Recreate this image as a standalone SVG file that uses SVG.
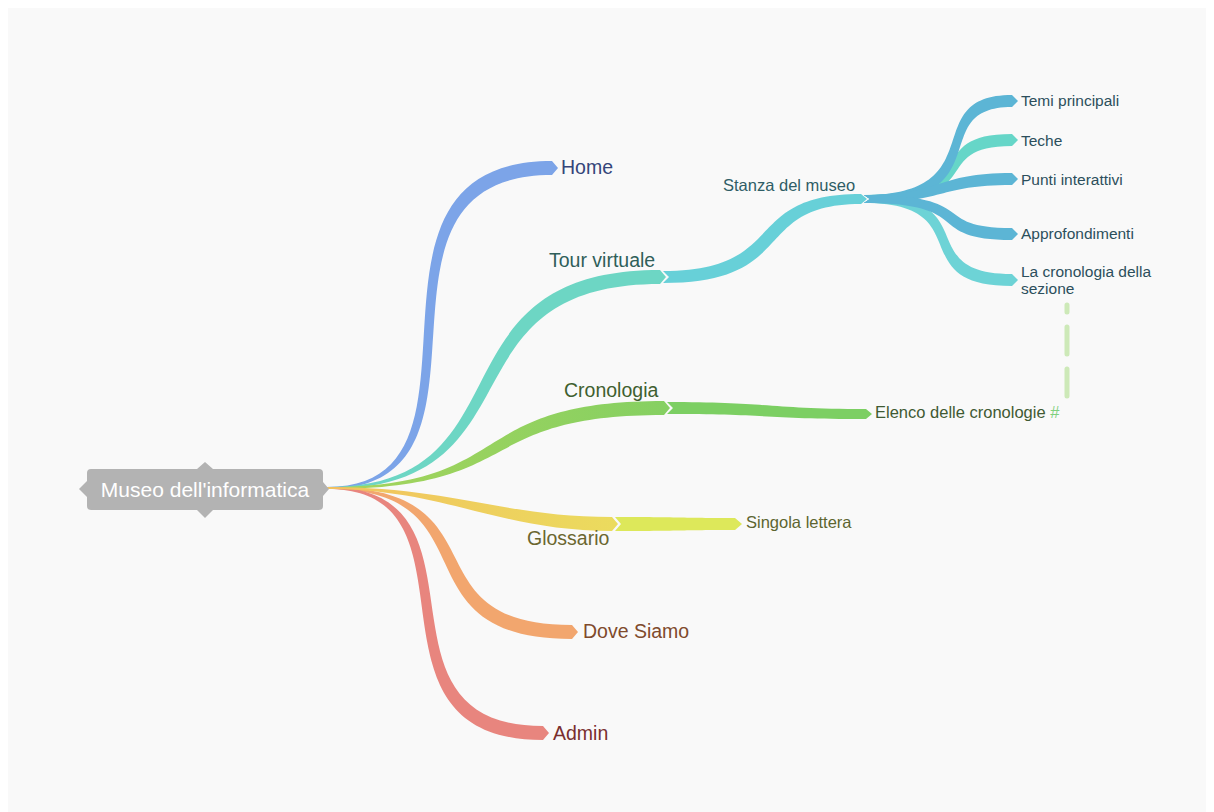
<svg xmlns="http://www.w3.org/2000/svg" width="1214" height="812" viewBox="0 0 1214 812">
<defs>
<style>
.t1{font-family:"Liberation Sans",Arial,sans-serif;font-size:19.5px}
.t2{font-family:"Liberation Sans",Arial,sans-serif;font-size:16.5px}
.t3{font-family:"Liberation Sans",Arial,sans-serif;font-size:15.5px}
.blue{fill:#5cb5d5}
</style>
<linearGradient id="gGlos" x1="327" y1="0" x2="615" y2="0" gradientUnits="userSpaceOnUse">
<stop offset="0" stop-color="#f2c25e"/><stop offset="1" stop-color="#ebdb5e"/>
</linearGradient>
<linearGradient id="gCron" x1="327" y1="0" x2="665" y2="0" gradientUnits="userSpaceOnUse">
<stop offset="0" stop-color="#a6d45c"/><stop offset="1" stop-color="#86d062"/>
</linearGradient>
</defs>
<rect x="0" y="0" width="1214" height="812" fill="#ffffff"/>
<rect x="8" y="8" width="1198" height="804" fill="#f9f9f9"/>

<g id="connectors">
<!-- first level -->
<path id="e-home" fill="#7ca4e8" d="M327,487 C512,487 327,161 552,161 L558,168 L552,175 C339,175 524,489 327,489 Z"/>
<path id="e-tour" fill="#6dd6c4" d="M327,487 C533,487 425,270 660,270 L666,277 L660,284 C437,284 545,489 327,489 Z"/>
<path id="e-cron" fill="url(#gCron)" d="M327,487 C519,487 461,401 664,401 L670,408 L664,415 C471,415 529,489 327,489 Z"/>
<path id="e-dove" fill="#f2a66e" d="M327,487 C508,487 404,625 572,625 L578,632 L572,639 C392,639 496,489 327,489 Z"/>
<path id="e-admin" fill="#e8857e" d="M327,487 C504,487 358,726 543,726 L549,733 L543,740 C346,740 492,489 327,489 Z"/>
<path id="e-glos" fill="url(#gGlos)" d="M327,487 C453,487 503,517 612,517 L618,524 L612,531 C497,531 447,489 327,489 Z"/>
<!-- second level -->
<path id="e-stanza" fill="#67d0d8" d="M663,271 C790,271 740,194 861,194 L867,199 L861,204 C750,204 800,283 663,283 L669,277 Z"/>
<path id="e-elenco" fill="#7ccf63" d="M667,402 C770,402 770,409 866,409 L872,414 L866,419 C770,419 770,414 667,414 L673,408 Z"/>
<path id="e-singola" fill="#dde85a" d="M615,517 C680,517 680,518 735,518 L742,524 L735,530 C680,530 680,531 615,531 L621,524 Z"/>
<!-- third level -->
<path id="e-teche" fill="#66d6c8" d="M864,195 C987,195 920,134 1012,134 L1018,140 L1012,146 C926,146 993,203 864,203 L870,199 Z"/>
<path id="e-lacron" fill="#6dd3d6" d="M864,195 C989,195 909,274 1012,274 L1018,280 L1012,286 C901,286 981,203 864,203 L870,199 Z"/>
<path id="e-temi" class="blue" d="M864,195 C996,195 916,95 1012,95 L1018,101 L1012,107 C924,107 1004,203 864,203 L870,199 Z"/>
<path id="e-punti" class="blue" d="M864,195 C944,195 934,173 1012,173 L1018,179 L1012,185 C936,185 946,203 864,203 L870,199 Z"/>
<path id="e-appro" class="blue" d="M864,195 C983,195 928,228 1012,228 L1018,234 L1012,240 C922,240 977,203 864,203 L870,199 Z"/>
<!-- dashed relation -->
<path id="e-rel" d="M1067,396 L1067,305" stroke="#cde9b8" stroke-width="5" stroke-linecap="round" stroke-dasharray="27 15" fill="none"/>
</g>

<g id="root">
<path fill="#b3b3b3" d="M91,469 L197,469 L205,462 L213,469 L319,469 Q323,469 323,473 L323,482 L329,489 L323,496 L323,506 Q323,510 319,510 L213,510 L205,518 L197,510 L91,510 Q87,510 87,506 L87,497 L79,489 L87,481 L87,473 Q87,469 91,469 Z"/>
<text x="205" y="497" text-anchor="middle" fill="#ffffff" font-family="Liberation Sans, Arial, sans-serif" font-size="21">Museo dell'informatica</text>
</g>

<g id="n-home"><text class="t1" x="561" y="174" fill="#34457a">Home</text></g>
<g id="n-tour"><text class="t1" x="549" y="267" fill="#2f5f5a">Tour virtuale</text></g>
<g id="n-cron"><text class="t1" x="564" y="397" fill="#3f5f2f">Cronologia</text></g>
<g id="n-glos"><text class="t1" x="527" y="545" fill="#6b6630">Glossario</text></g>
<g id="n-dove"><text class="t1" x="583" y="638" fill="#7f4a2c">Dove Siamo</text></g>
<g id="n-admin"><text class="t1" x="553" y="740" fill="#7a2f2f">Admin</text></g>

<g id="n-stanza"><text class="t2" x="723" y="191" fill="#2f5d66">Stanza del museo</text></g>
<g id="n-elenco"><text class="t2" x="875" y="418" fill="#3f5a33">Elenco delle cronologie <tspan fill="#7fd07f">#</tspan></text></g>
<g id="n-singola"><text class="t2" x="746" y="528" fill="#5d6530">Singola lettera</text></g>

<g id="n-temi"><text class="t3" x="1021" y="106" fill="#2c4f5c">Temi principali</text></g>
<g id="n-teche"><text class="t3" x="1021" y="146" fill="#2c4f5c">Teche</text></g>
<g id="n-punti"><text class="t3" x="1021" y="185" fill="#2c4f5c">Punti interattivi</text></g>
<g id="n-appro"><text class="t3" x="1021" y="239" fill="#2c4f5c">Approfondimenti</text></g>
<g id="n-lacron"><text class="t3" x="1021" y="277" fill="#2c4f5c">La cronologia della<tspan x="1021" y="294">sezione</tspan></text></g>
</svg>
